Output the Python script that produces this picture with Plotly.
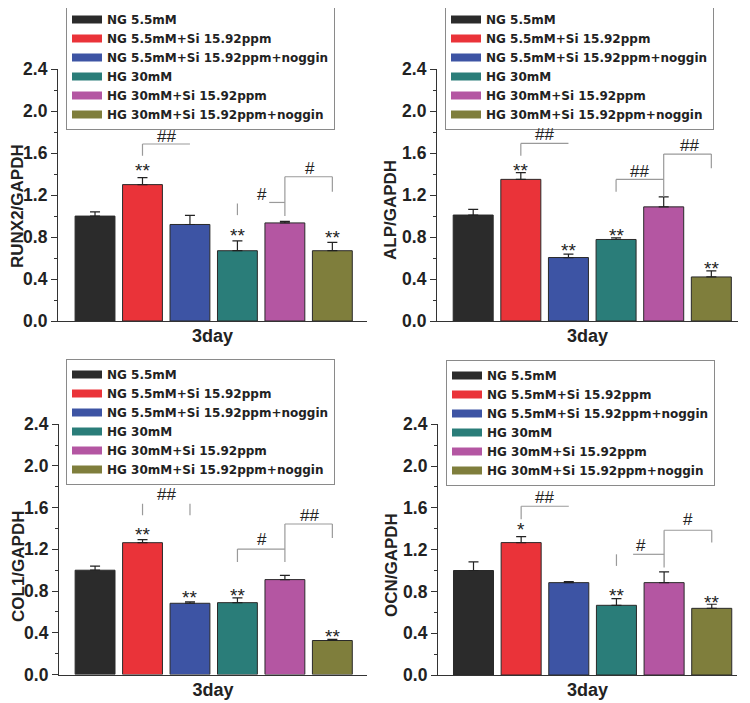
import plotly.graph_objects as go

# the page body adds an 8 px offset around the figure
OFF = 8
W, H = 750 - OFF, 703 - OFF

groups = ["NG 5.5mM", "NG 5.5mM+Si 15.92ppm", "NG 5.5mM+Si 15.92ppm+noggin",
          "HG 30mM", "HG 30mM+Si 15.92ppm", "HG 30mM+Si 15.92ppm+noggin"]
colors = ["#2b2b2b", "#ea3339", "#3d54a4", "#2a7d79", "#b456a2", "#7f7e3c"]

runx2 = [1.00, 1.30, 0.92, 0.67, 0.935, 0.67]
runx2_err = [0.04, 0.067, 0.086, 0.093, 0.015, 0.08]
alp = [1.01, 1.35, 0.605, 0.777, 1.088, 0.42]
alp_err = [0.054, 0.064, 0.032, 0.016, 0.096, 0.057]
col1 = [1.00, 1.264, 0.683, 0.689, 0.91, 0.326]
col1_err = [0.04, 0.029, 0.013, 0.045, 0.041, 0.01]
ocn = [1.00, 1.267, 0.884, 0.667, 0.884, 0.638]
ocn_err = [0.083, 0.058, 0.01, 0.064, 0.102, 0.039]

titles = ["RUNX2/GAPDH", "ALP/GAPDH", "COL1/GAPDH", "OCN/GAPDH"]
x_label = "3day"

# significance marks: (bar index, y, text)
stars = [
    [(1, 1.486, "**"), (3, 0.866, "**"), (5, 0.843, "**")],
    [(1, 1.486, "**"), (2, 0.722, "**"), (3, 0.866, "**"), (5, 0.547, "**")],
    [(1, 1.388, "**"), (2, 0.782, "**"), (3, 0.804, "**"), (5, 0.415, "**")],
    [(1, 1.443, "*"), (3, 0.811, "**"), (5, 0.741, "**")],
]
hashes = [
    [(1.51, 1.757, "##"), (3.52, 1.206, "#"), (4.52, 1.455, "#")],
    [(1.50, 1.773, "##"), (3.49, 1.423, "##"), (4.54, 1.671, "##")],
    [(1.51, 1.73, "##"), (3.52, 1.293, "#"), (4.52, 1.526, "##")],
    [(1.50, 1.698, "##"), (3.52, 1.235, "#"), (4.50, 1.49, "#")],
]
# bracket segments: (x0, y0, x1, y1)
brackets = [
    [(1, 1.687, 2, 1.687), (1, 1.687, 1, 1.575),
     (3, 1.12, 3, 1.009), (3.67, 1.13, 4, 1.13), (4, 1.375, 4, 1.0),
     (4, 1.375, 5, 1.375), (5, 1.375, 5, 1.232)],
    [(1, 1.693, 2, 1.693), (1, 1.693, 1, 1.575),
     (3, 1.349, 4, 1.349), (3, 1.349, 3, 1.232), (4, 1.591, 4, 1.184),
     (4, 1.591, 5, 1.591), (5, 1.591, 5, 1.455)],
    [(1, 1.637, 1, 1.526), (2, 1.637, 2, 1.526),
     (3, 1.203, 4, 1.203), (3, 1.203, 3, 1.079), (4, 1.443, 4, 1.079),
     (4, 1.443, 5, 1.443), (5, 1.443, 5, 1.309)],
    [(1, 1.615, 2, 1.615), (1, 1.615, 1, 1.491),
     (3, 1.155, 3, 1.044), (3.35, 1.155, 4, 1.155), (4, 1.385, 4, 1.028),
     (4, 1.385, 5, 1.385), (5, 1.385, 5, 1.267)],
]

values = [runx2, alp, col1, ocn]
errors = [runx2_err, alp_err, col1_err, ocn_err]

# panel geometry in page pixels
panels = [
    dict(x=(58, 367), y=(69, 321), xr=(-0.78, 5.73), leg=(66, 4), yt=(18, 206)),
    dict(x=(437, 738), y=(69, 321), xr=(-0.76, 5.56), leg=(445, 4), yt=(390, 210)),
    dict(x=(59, 367), y=(424, 674.5), xr=(-0.76, 5.73), leg=(66, 359), yt=(18, 567)),
    dict(x=(438, 737), y=(424, 675), xr=(-0.745, 5.53), leg=(446, 360), yt=(391, 565)),
]


def px(v):
    return (v - OFF) / W


def py(v):
    return 1 - (v - OFF) / H


FONT = "Liberation Sans, Arial, sans-serif"
LEGFONT = "DejaVu Sans, Liberation Sans, sans-serif"
fig = go.Figure()
layout = dict(width=W, height=H,
              margin=dict(l=0, r=0, t=0, b=0, pad=0, autoexpand=False),
              paper_bgcolor="white", plot_bgcolor="white",
              barmode="overlay", font=dict(family=FONT, color="#222"),
              shapes=[], annotations=[])

for p, geo in enumerate(panels):
    sfx = "" if p == 0 else str(p + 1)
    xa, ya = "x" + sfx, "y" + sfx
    leg = "legend" + sfx
    fig.add_trace(go.Bar(
        x=list(range(len(groups))), y=values[p], width=0.84,
        marker=dict(color=colors, line=dict(color="#2a2a2a", width=1)),
        error_y=dict(type="data", symmetric=False, array=errors[p],
                     arrayminus=[0] * len(groups), color="#222",
                     thickness=1.2, width=5),
        showlegend=False, xaxis=xa, yaxis=ya, hoverinfo="y"))
    for g, c in zip(groups, colors):
        fig.add_trace(go.Scatter(x=[None], y=[None], mode="lines",
                                 line=dict(color=c, width=8), name=g,
                                 legend=leg, xaxis=xa, yaxis=ya))
    layout["xaxis" + sfx] = dict(
        domain=[px(geo["x"][0]), px(geo["x"][1])], range=list(geo["xr"]),
        anchor=ya, showline=True, linecolor="#333", linewidth=1.2,
        showticklabels=False, ticks="", showgrid=False, zeroline=False,
        automargin=False,
        title=dict(text=x_label, font=dict(size=18, weight="bold"), standoff=8))
    layout["yaxis" + sfx] = dict(
        domain=[py(geo["y"][1]), py(geo["y"][0])], range=[0, 2.402],
        anchor=xa, showline=True, linecolor="#333", linewidth=1.2,
        ticks="outside", ticklen=6, tickwidth=1.2, tickcolor="#333",
        tick0=0, dtick=0.4, tickformat=".1f",
        minor=dict(ticks="outside", ticklen=3, dtick=0.2, tick0=0,
                   tickcolor="#333", tickwidth=1),
        showgrid=False, zeroline=False, automargin=False,
        tickfont=dict(size=17.5, weight="bold"))
    # y-axis title (placed as rotated text to sit at the figure's left edge)
    layout["annotations"].append(dict(
        x=px(geo["yt"][0]), y=py(geo["yt"][1]), xref="paper", yref="paper",
        text=titles[p], textangle=-90, showarrow=False, borderpad=0,
        xanchor="center", yanchor="middle",
        font=dict(size=17, weight="bold", color="#222")))
    layout[leg] = dict(
        x=px(geo["leg"][0]), y=py(geo["leg"][1]), xanchor="left", yanchor="top",
        bgcolor="white", bordercolor="#8a8a8a", borderwidth=1,
        font=dict(family=LEGFONT, size=12, weight="bold", color="#222"),
        itemwidth=30, tracegroupgap=0)
    for (x0, y0, x1, y1) in brackets[p]:
        layout["shapes"].append(dict(type="line", xref=xa, yref=ya,
                                     x0=x0, y0=y0, x1=x1, y1=y1,
                                     line=dict(color="#9a9a9a", width=1.2)))
    for (i, yv, t) in stars[p]:
        layout["annotations"].append(dict(x=i, y=yv, xref=xa, yref=ya, text=t,
                                          showarrow=False, yshift=-5,
                                          font=dict(size=19, color="#222")))
    for (xv, yv, t) in hashes[p]:
        layout["annotations"].append(dict(x=xv, y=yv, xref=xa, yref=ya, text=t,
                                          showarrow=False,
                                          font=dict(size=17, color="#222")))

fig.update_layout(**layout)
fig.write_html("out.html")
